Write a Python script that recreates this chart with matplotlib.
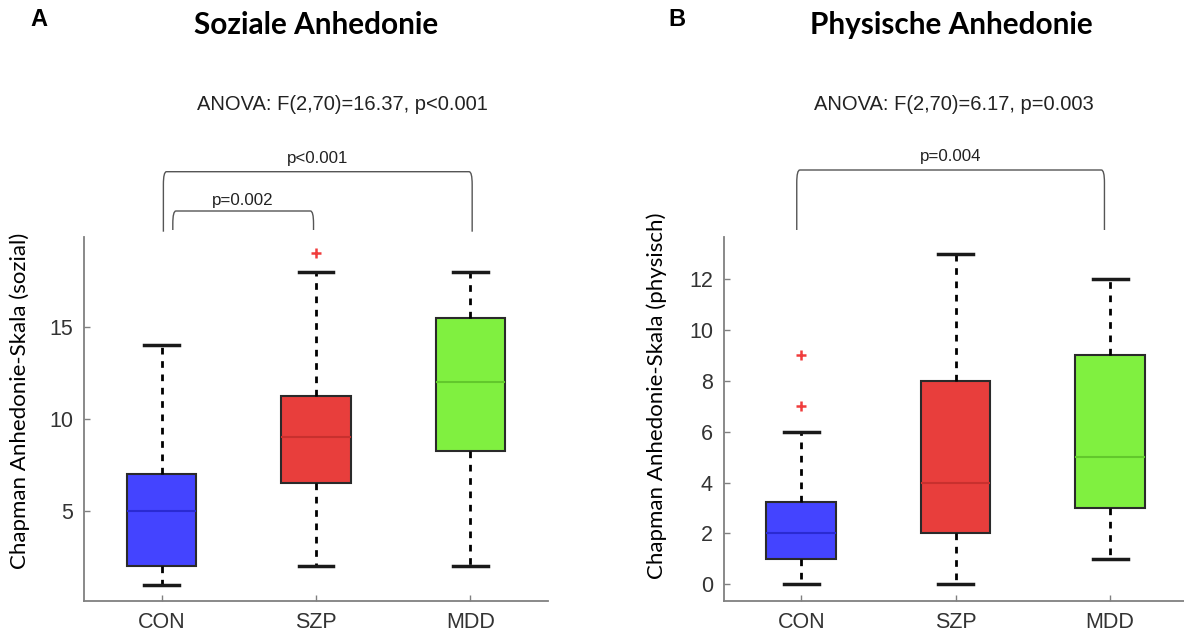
import numpy as np
import matplotlib.pyplot as plt
from matplotlib import transforms
from matplotlib.path import Path
from matplotlib.patches import PathPatch

groups = ["CON", "SZP", "MDD"]
box_colors = ["#4444ff", "#e83e3c", "#80f040"]
median_colors = ["#2a2ad2", "#c8302e", "#62c82c"]

# social anhedonia: whisker low, q1, median, q3, whisker high, outliers
soz_lo = [1, 2, 2]
soz_q1 = [2, 6.5, 8.25]
soz_med = [5, 9, 12]
soz_q3 = [7, 11.25, 15.5]
soz_hi = [14, 18, 18]
soz_out = [[], [19], []]

# physical anhedonia
phy_lo = [0, 0, 1]
phy_q1 = [1, 2, 3]
phy_med = [2, 4, 5]
phy_q3 = [3.25, 8, 9]
phy_hi = [6, 13, 12]
phy_out = [[7, 9], [], []]

anova_soz = "ANOVA: F(2,70)=16.37, p<0.001"
anova_phy = "ANOVA: F(2,70)=6.17, p=0.003"
# (left group, right group, label)
pairs_soz = [(1, 3, "p<0.001"), (1, 2, "p=0.002")]
pairs_phy = [(1, 3, "p=0.004")]

W, H = 1184, 637
fig = plt.figure(figsize=(W / 100, H / 100), dpi=100)

arial = "Liberation Sans"
calibri = "Lato"


def draw_panel(ax, lo, q1, med, q3, hi, out, ylim, yticks, ylabel, lx, ly):
    stats = []
    for i in range(len(groups)):
        stats.append(dict(whislo=lo[i], q1=q1[i], med=med[i], q3=q3[i],
                          whishi=hi[i], fliers=out[i], label=groups[i]))
    bp = ax.bxp(stats, positions=[1, 2, 3], widths=0.45, capwidths=0.225,
                patch_artist=True,
                boxprops=dict(edgecolor="#2a2a2a", linewidth=1.5),
                whiskerprops=dict(color="black", linewidth=2.0,
                                  linestyle=(0, (2.4, 2.4))),
                capprops=dict(color="#1a1a1a", linewidth=2.5),
                medianprops=dict(linewidth=1.5),
                flierprops=dict(marker="+", markeredgecolor="#f03c3c",
                                markersize=7, markeredgewidth=1.8))
    for box, med_line, fc, mc in zip(bp["boxes"], bp["medians"],
                                     box_colors, median_colors):
        box.set_facecolor(fc)
        med_line.set_color(mc)
    ax.set_xlim(0.5, 3.5)
    ax.set_ylim(*ylim)
    ax.set_yticks(yticks)
    ax.set_xticks([1, 2, 3], groups)
    for s in ["top", "right"]:
        ax.spines[s].set_visible(False)
    for s in ["left", "bottom"]:
        ax.spines[s].set_color("#808080")
        ax.spines[s].set_linewidth(1.3)
    ax.tick_params(direction="in", length=4, width=1, color="#808080",
                   labelcolor="#333333", labelsize=15.5, pad=8)
    for lab in ax.get_xticklabels() + ax.get_yticklabels():
        lab.set_fontfamily(arial)
    ax.set_ylabel(ylabel, fontfamily=calibri, fontsize=16)
    ax.yaxis.set_label_coords(lx, ly)


def bracket(ax, x0, x1, ybot, ytop, label, ytext):
    tr = transforms.blended_transform_factory(ax.transData, fig.transFigure)
    dx, r = 0.02, 0.02
    verts = [(x0, ybot), (x0, ytop - r), (x0, ytop), (x0 + dx, ytop),
             (x1 - dx, ytop), (x1, ytop), (x1, ytop - r), (x1, ybot)]
    codes = [Path.MOVETO, Path.LINETO, Path.CURVE3, Path.CURVE3,
             Path.LINETO, Path.CURVE3, Path.CURVE3, Path.LINETO]
    patch = PathPatch(Path(verts, codes), transform=tr, fill=False,
                      edgecolor="#555555", linewidth=1.0, clip_on=False)
    fig.add_artist(patch)
    fig.text((x0 + x1) / 2, ytext, label, transform=tr, ha="center",
             va="center", fontfamily=arial, fontsize=12.2, color="#222222")


ax1 = fig.add_axes([84.3 / W, 1 - 601.3 / H, 463.4 / W, 364.6 / H])
ax2 = fig.add_axes([724 / W, 1 - 601.3 / H, 463.4 / W, 364.6 / H])

draw_panel(ax1, soz_lo, soz_q1, soz_med, soz_q3, soz_hi, soz_out,
           (0.1, 19.9), [5, 10, 15], "Chapman Anhedonie-Skala (sozial)",
           -0.118, 0.55)
draw_panel(ax2, phy_lo, phy_q1, phy_med, phy_q3, phy_hi, phy_out,
           (-0.67, 13.67), [0, 2, 4, 6, 8, 10, 12],
           "Chapman Anhedonie-Skala (physisch)", -0.122, 0.565)

bracket(ax1, 1.012, 3.011, 1 - 231.7 / H, 1 - 171.7 / H, pairs_soz[0][2], 1 - 158 / H)
bracket(ax1, 1.073, 1.984, 1 - 230 / H, 1 - 211 / H, pairs_soz[1][2], 1 - 200 / H)
bracket(ax2, 0.971, 2.963, 1 - 230 / H, 1 - 170 / H, pairs_phy[0][2], 1 - 157 / H)

fig.text(342 / W, 1 - 104 / H, anova_soz, ha="center", va="center",
         fontfamily=arial, fontsize=14.5, color="#222222")
fig.text(954 / W, 1 - 104 / H, anova_phy, ha="center", va="center",
         fontfamily=arial, fontsize=14.5, color="#222222")

fig.text(316 / W, 1 - 25 / H, "Soziale Anhedonie", ha="center", va="center",
         fontfamily=calibri, fontweight="bold", fontsize=21.4)
fig.text(951 / W, 1 - 25 / H, "Physische Anhedonie", ha="center", va="center",
         fontfamily=calibri, fontweight="bold", fontsize=21.4)
fig.text(39 / W, 1 - 19 / H, "A", ha="center", va="center",
         fontfamily=arial, fontweight="bold", fontsize=17)
fig.text(677 / W, 1 - 19 / H, "B", ha="center", va="center",
         fontfamily=arial, fontweight="bold", fontsize=17)

fig.savefig("out.png", dpi=100)
